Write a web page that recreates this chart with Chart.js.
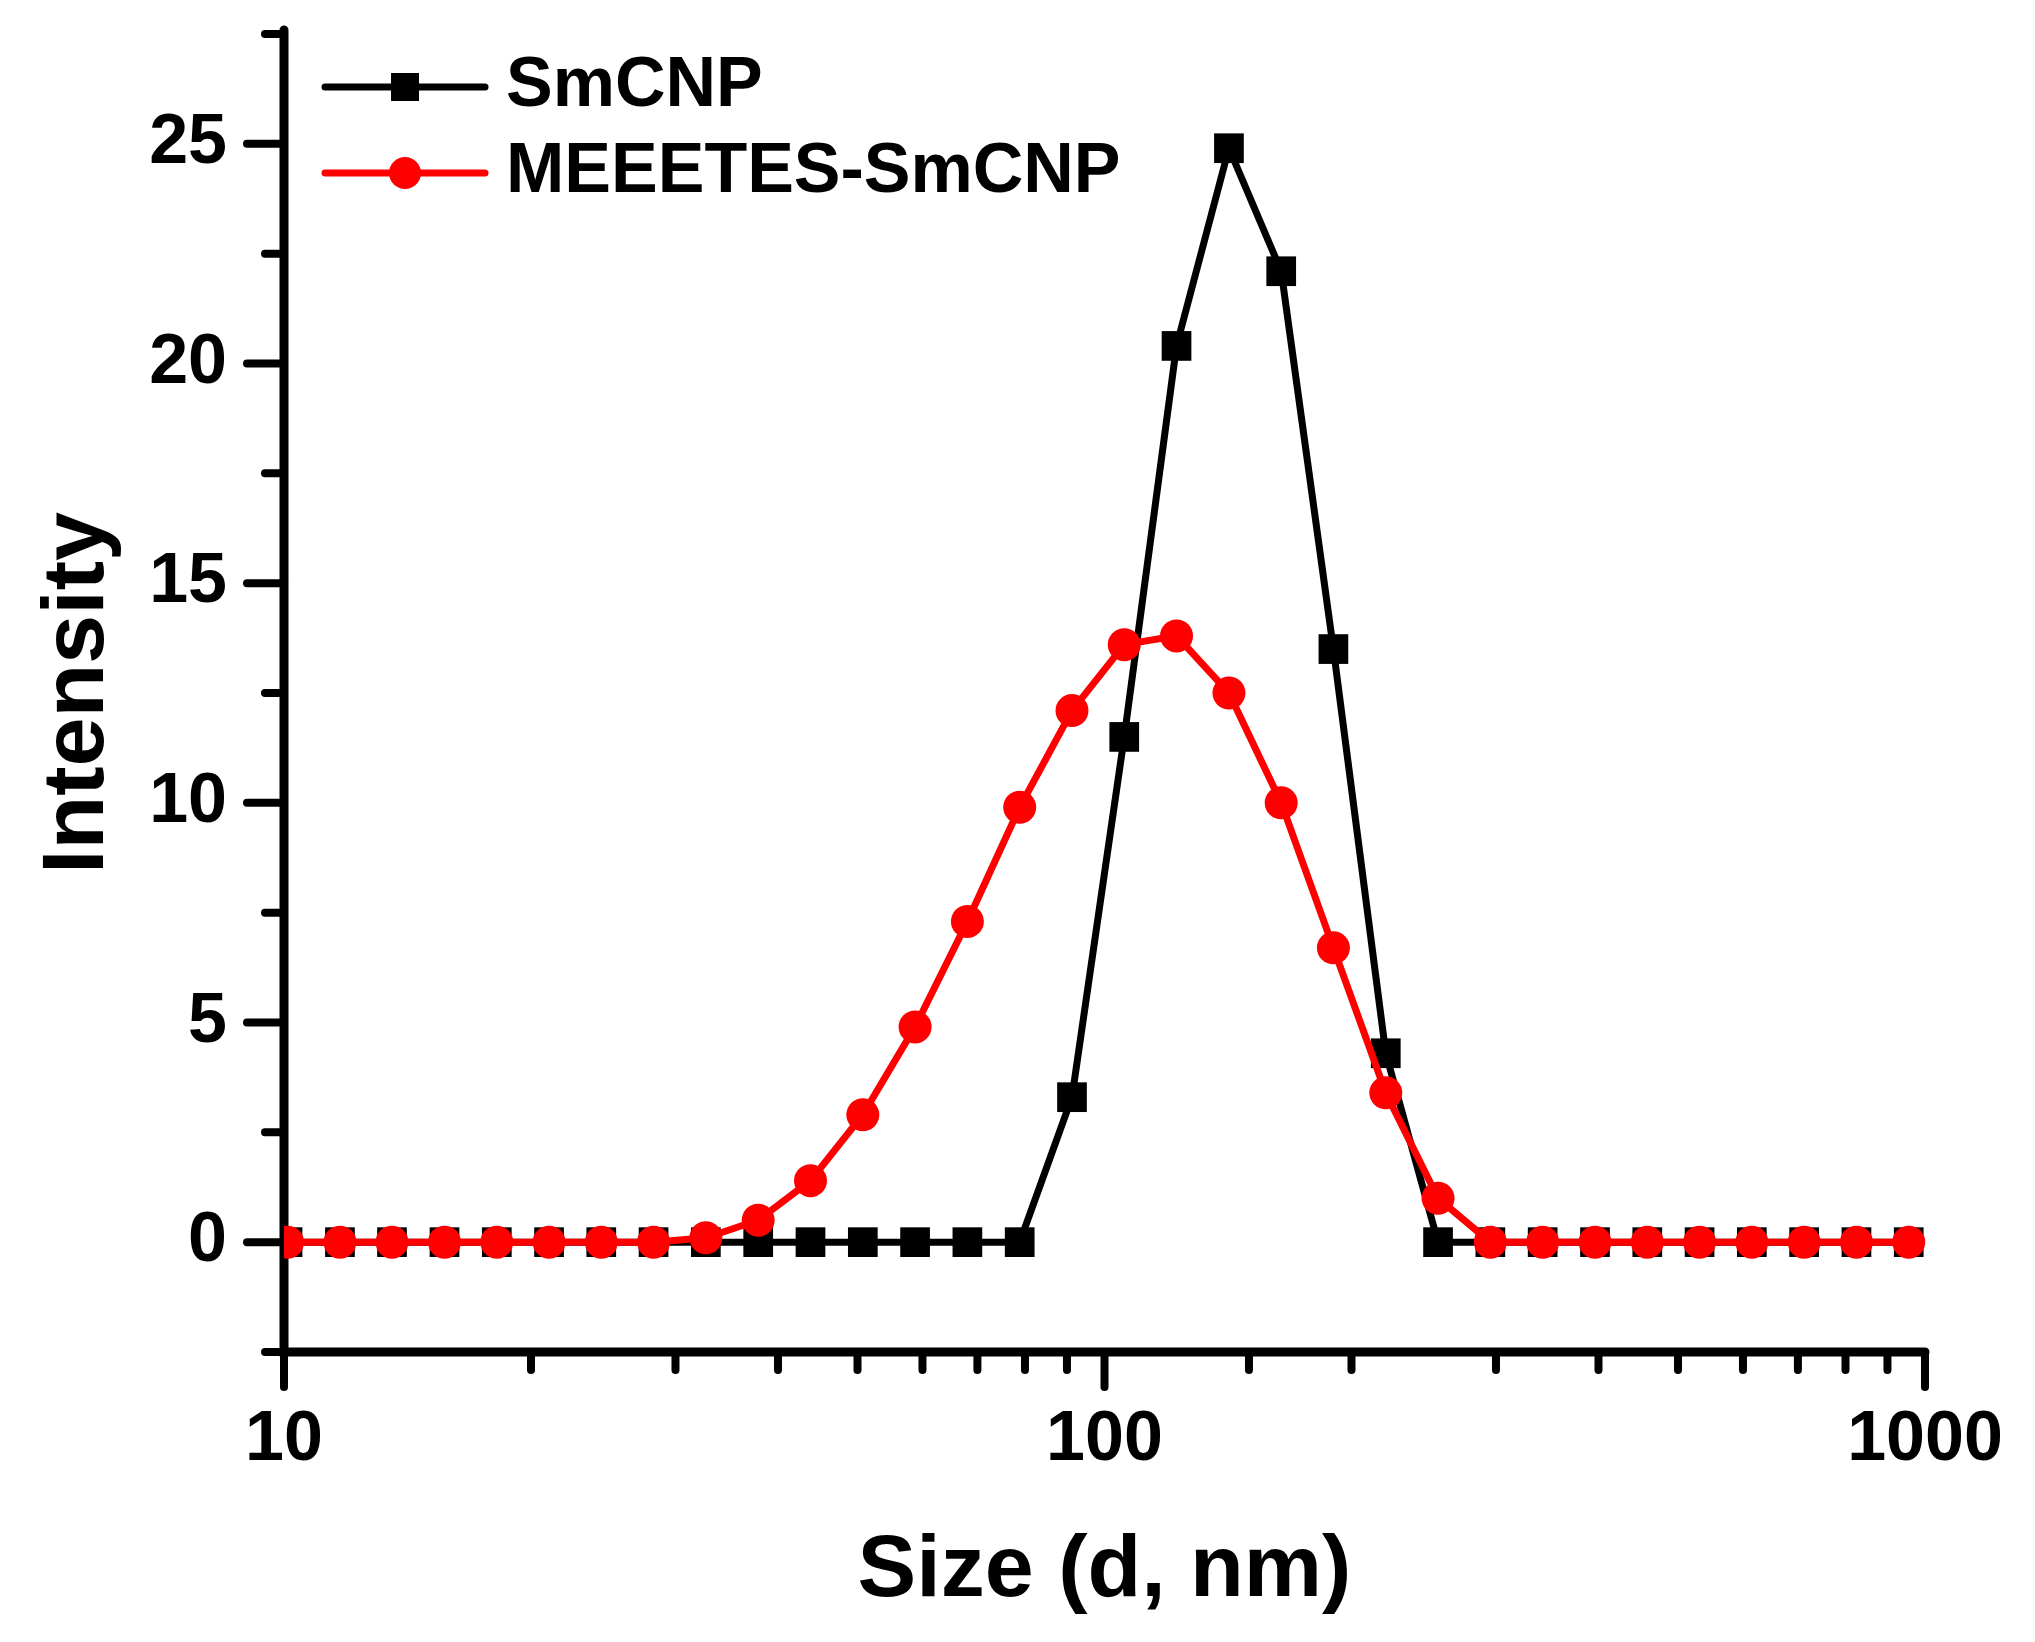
<!DOCTYPE html>
<html>
<head>
<meta charset="utf-8">
<script src="https://cdn.jsdelivr.net/npm/chart.js@4.4.1/dist/chart.umd.min.js"></script>
<style>
  html, body { margin: 0; padding: 0; background: #fff; }
  #wrap { width: 2035px; height: 1642px; }
</style>
</head>
<body>
<div id="wrap"><canvas id="dls" width="2035" height="1642"></canvas></div>
<script>
'use strict';

// DLS size bins (nm) and intensity (%)
const sizes = [10.1, 11.7, 13.54, 15.69, 18.17, 21.04, 24.36, 28.21, 32.67, 37.84,
  43.82, 50.75, 58.77, 68.06, 78.82, 91.28, 105.7, 122.4, 141.8, 164.2,
  190.1, 220.2, 255.0, 295.3, 342.0, 396.1, 458.7, 531.2, 615.1, 712.4, 825.0, 955.4];
const smcnp = [0, 0, 0, 0, 0, 0, 0, 0, 0, 0,
  0, 0, 0, 0, 0, 3.3, 11.5, 20.4, 24.9, 22.1,
  13.5, 4.3, 0, 0, 0, 0, 0, 0, 0, 0, 0, 0];
const meeetes = [0, 0, 0, 0, 0, 0, 0, 0, 0.1, 0.5,
  1.4, 2.9, 4.9, 7.3, 9.9, 12.1, 13.6, 13.8, 12.5, 10.0,
  6.7, 3.4, 1.0, 0, 0, 0, 0, 0, 0, 0, 0, 0];
const seriesNames = ['SmCNP', 'MEEETES-SmCNP'];
const xLabelTicks = [10, 100, 1000];
const yLabelStep = 5;

const FONT = '"Liberation Sans", Arial, sans-serif';
Chart.defaults.font.family = FONT;
Chart.defaults.font.weight = 'bold';
Chart.defaults.color = '#000';

function isDecade(v) {
  const f = Math.log10(v) % 1;
  return Math.abs(f) < 1e-9 || Math.abs(f - 1) < 1e-9;
}

// Origin-style axes: thick L frame, long major / short minor ticks
const axisPlugin = {
  id: 'originAxes',
  beforeDatasetsDraw(chart) {
    const { ctx, chartArea: a, scales: { x, y } } = chart;
    ctx.save();
    ctx.strokeStyle = '#000';
    ctx.lineCap = 'round';
    ctx.lineWidth = 9;
    ctx.beginPath();
    ctx.moveTo(a.left, a.top - 4);
    ctx.lineTo(a.left, a.bottom);
    ctx.lineTo(a.right, a.bottom);
    ctx.stroke();

    ctx.lineWidth = 8;
    x.ticks.forEach(t => {
      const px = x.getPixelForValue(t.value);
      const len = isDecade(t.value) ? 35 : 18;
      ctx.beginPath();
      ctx.moveTo(px, a.bottom);
      ctx.lineTo(px, a.bottom + len);
      ctx.stroke();
    });
    y.ticks.forEach(t => {
      const py = y.getPixelForValue(t.value);
      const len = t.value % yLabelStep === 0 ? 37 : 19;
      ctx.beginPath();
      ctx.moveTo(a.left, py);
      ctx.lineTo(a.left - len, py);
      ctx.stroke();
    });
    ctx.restore();
  }
};

// legend inside the plot, line + marker like the original
const legendPlugin = {
  id: 'insetLegend',
  afterDraw(chart) {
    const { ctx, chartArea: a } = chart;
    ctx.save();
    chart.data.datasets.forEach((ds, i) => {
      const yy = a.top + 53 + i * 86;
      const x0 = a.left + 41, x1 = a.left + 201, xm = a.left + 121;
      ctx.strokeStyle = ds.borderColor;
      ctx.lineWidth = 7;
      ctx.lineCap = 'round';
      ctx.beginPath();
      ctx.moveTo(x0, yy);
      ctx.lineTo(x1, yy);
      ctx.stroke();
      ctx.fillStyle = ds.backgroundColor;
      if (ds.pointStyle === 'rect') {
        ctx.fillRect(xm - 14, yy - 14, 28, 28);
      } else {
        ctx.beginPath();
        ctx.arc(xm, yy, 16, 0, Math.PI * 2);
        ctx.fill();
      }
      ctx.fillStyle = '#000';
      ctx.font = 'bold 70px ' + FONT;
      ctx.textBaseline = 'middle';
      ctx.textAlign = 'left';
      ctx.fillText(ds.label, a.left + 222, yy);
    });
    ctx.restore();
  }
};

const clipLeft = { left: 0, top: false, right: false, bottom: false };

new Chart(document.getElementById('dls'), {
  type: 'line',
  data: {
    datasets: [
      {
        label: seriesNames[0],
        data: sizes.map((s, i) => ({ x: s, y: smcnp[i] })),
        borderColor: '#000000',
        backgroundColor: '#000000',
        borderWidth: 7,
        pointStyle: 'rect',
        pointRadius: 21,
        pointBorderWidth: 0,
        tension: 0,
        order: 1,
        clip: clipLeft
      },
      {
        label: seriesNames[1],
        data: sizes.map((s, i) => ({ x: s, y: meeetes[i] })),
        borderColor: '#ff0000',
        backgroundColor: '#ff0000',
        borderWidth: 7,
        pointStyle: 'circle',
        pointRadius: 16.5,
        pointBorderWidth: 0,
        tension: 0,
        order: 0,
        clip: clipLeft
      }
    ]
  },
  options: {
    responsive: false,
    devicePixelRatio: 1,
    animation: false,
    layout: { padding: { left: 0, top: 34, right: 110, bottom: 0 } },
    plugins: {
      legend: { display: false },
      tooltip: { enabled: false }
    },
    scales: {
      x: {
        type: 'logarithmic',
        min: 10,
        max: 1000,
        afterFit: s => { s.height = 290; s.paddingLeft = 0; },
        grid: { display: false, tickLength: 35 },
        border: { display: false },
        ticks: {
          autoSkip: false,
          maxRotation: 0,
          padding: 12,
          font: { size: 70, weight: 'bold' },
          callback: v => (xLabelTicks.includes(Math.round(v)) && isDecade(v)) ? String(Math.round(v)) : ''
        },
        title: {
          display: true,
          text: 'Size (d, nm)',
          font: { size: 88, weight: 'bold' },
          padding: { top: 0, bottom: 17 }
        }
      },
      y: {
        min: -2.5,
        max: 27.5,
        afterFit: s => { s.width = 284; s.paddingTop = 0; s.paddingBottom = 0; },
        grid: { display: false, tickLength: 37 },
        border: { display: false },
        ticks: {
          stepSize: 2.5,
          padding: 20,
          font: { size: 70, weight: 'bold' },
          callback: v => (v % yLabelStep === 0 ? String(v) : '')
        },
        title: {
          display: true,
          text: 'Intensity',
          font: { size: 88, weight: 'bold' },
          padding: { top: 26, bottom: 0 }
        }
      }
    }
  },
  plugins: [axisPlugin, legendPlugin]
});
</script>
</body>
</html>
